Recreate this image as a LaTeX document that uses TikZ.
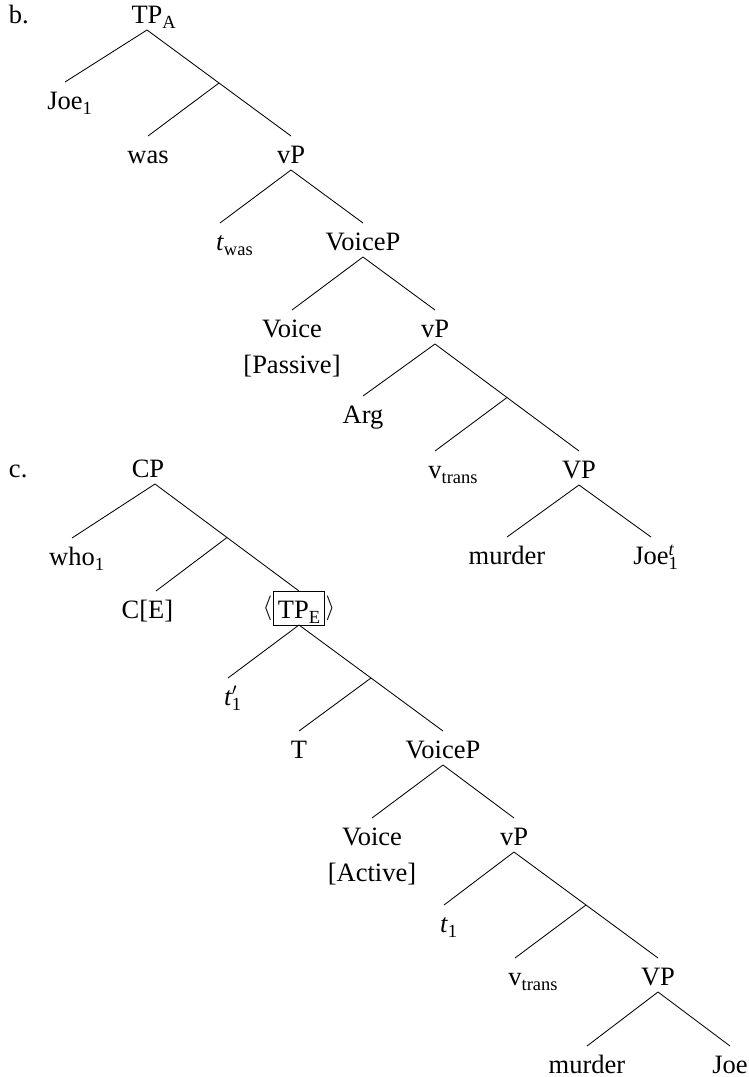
\documentclass[tikz,border=0pt]{standalone}
\usepackage{fontspec}
\setmainfont{Liberation Serif}
\usetikzlibrary{calc}
\newcommand\subs[1]{\raisebox{-5pt}{\fontsize{18.5}{18}\selectfont #1}}
\newcommand\sups[1]{\raisebox{9pt}{\fontsize{18.5}{18}\selectfont #1}}
\begin{document}
\begin{tikzpicture}[x=1pt,y=-1pt,
  every node/.style={font=\fontsize{26.5}{36}\selectfont, inner xsep=2pt, inner ysep=2pt, outer sep=0pt},
  lbl/.style={anchor=north, text height=25pt, text depth=5pt},
  rootlbl/.style={anchor=south, text height=25pt, text depth=5pt},
  two/.style={anchor=north, align=center},
  br/.style={line width=0.85pt},
  ang/.style={inner sep=0pt, label distance=1pt}]
\useasboundingbox (0,0) rectangle (748,1077);
% ---- tree b
\node[anchor=base west] (lb) at (7,23) {b.};
\node[rootlbl] (tpA) at (147,30) {TP\rlap{\subs{A}}};
\node[lbl] (joeA) at (65,82) {Joe\rlap{\subs{1}}};
\node[lbl] (was) at (148,136) {was};
\node[lbl] (vpA) at (291,136) {vP};
\node[lbl] (twas) at (220,223) {\textit{t}\rlap{\subs{was}}};
\node[lbl] (voicepA) at (363,223) {VoiceP};
\node[two] (voiceA) at (292,310) {\rule{0pt}{25pt}Voice\\{[Passive]}};
\node[lbl] (vpB) at (435,310) {vP};
\node[lbl] (arg) at (363,396) {Arg};
\node[lbl] (vtransA) at (435,451) {v\rlap{\subs{trans}}};
\node[lbl] (VPA) at (579,451) {VP};
\node[lbl] (murderA) at (507,537) {murder};
\node[lbl] (joeB) at (651,537) {Joe\rlap{\sups{\itshape t}}\rlap{\subs{1}}};
% ---- tree c
\node[anchor=base west] (lc) at (7,477) {c.};
\node[rootlbl] (cp) at (148,484) {CP};
\node[lbl] (who) at (72,538) {who\rlap{\subs{1}}};
\node[lbl] (ce) at (147.5,591) {C[E]};
\node[lbl, draw, line width=0.85pt, inner xsep=4.5pt,
      label={[ang]left:$\langle$}, label={[ang]right:$\rangle$}] (tpE) at (299,591) {TP\subs{E}};
\node[lbl] (t1p) at (228,678) {\textit{t}\rlap{$'$}\rlap{\subs{1}}};
\node[lbl] (T) at (299,731) {T};
\node[lbl] (voicepB) at (443,731) {VoiceP};
\node[two] (voiceB) at (372,818) {\rule{0pt}{25pt}Voice\\{[Active]}};
\node[lbl] (vpC) at (514,818) {vP};
\node[lbl] (t1) at (444,905) {\textit{t}\rlap{\subs{1}}};
\node[lbl] (vtransB) at (515,958) {v\rlap{\subs{trans}}};
\node[lbl] (VPB) at (658,958) {VP};
\node[lbl] (murderB) at (587,1046) {murder};
\node[lbl] (joeC) at (730,1046) {Joe};
% ---- branching points
\coordinate (iA) at ($(tpA.south)!0.5!(vpA.north)$);
\coordinate (iB) at ($(vpB.south)!0.5!(VPA.north)$);
\coordinate (iC) at ($([xshift=7pt]cp.south)!0.5!(tpE.north)$);
\coordinate (iD) at ($(tpE.south)!0.5!(voicepB.north)$);
\coordinate (iE) at ($(vpC.south)!0.5!(VPB.north)$);
% ---- branches b
\draw[br] (tpA.south) -- (joeA.north);
\draw[br] (tpA.south) -- (vpA.north);
\draw[br] (iA) -- (was.north);
\draw[br] (vpA.south) -- (twas.north);
\draw[br] (vpA.south) -- (voicepA.north);
\draw[br] (voicepA.south) -- (voiceA.north);
\draw[br] (voicepA.south) -- (vpB.north);
\draw[br] (vpB.south) -- (arg.north);
\draw[br] (vpB.south) -- (VPA.north);
\draw[br] (iB) -- (vtransA.north);
\draw[br] (VPA.south) -- (murderA.north);
\draw[br] (VPA.south) -- (joeB.north);
% ---- branches c
\draw[br] ([xshift=7pt]cp.south) -- (who.north);
\draw[br] ([xshift=7pt]cp.south) -- (tpE.north);
\draw[br] (iC) -- ([xshift=8.5pt]ce.north);
\draw[br] (tpE.south) -- (t1p.north);
\draw[br] (tpE.south) -- (voicepB.north);
\draw[br] (iD) -- (T.north);
\draw[br] (voicepB.south) -- (voiceB.north);
\draw[br] (voicepB.south) -- (vpC.north);
\draw[br] (vpC.south) -- (t1.north);
\draw[br] (vpC.south) -- (VPB.north);
\draw[br] (iE) -- (vtransB.north);
\draw[br] (VPB.south) -- (murderB.north);
\draw[br] (VPB.south) -- (joeC.north);
\end{tikzpicture}
\end{document}
